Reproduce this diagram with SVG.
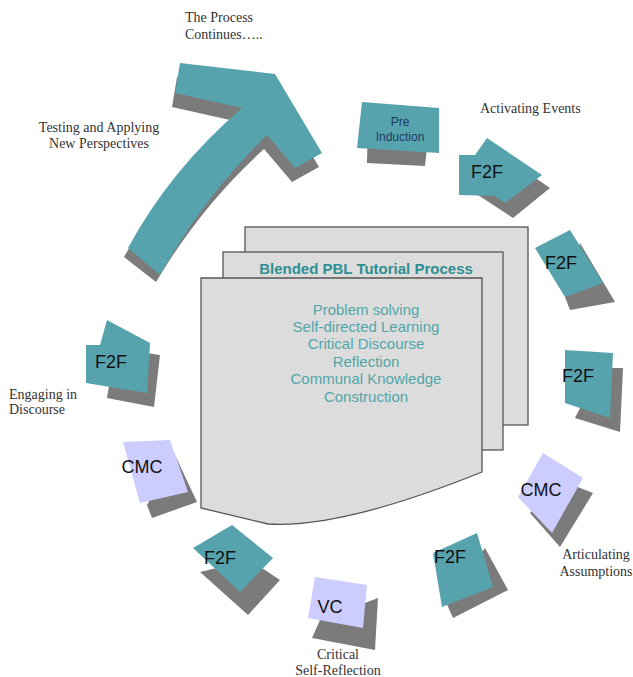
<svg xmlns="http://www.w3.org/2000/svg" width="633" height="677" viewBox="0 0 633 677">
<style>
.lbl{font-family:"Liberation Serif","Times New Roman",serif;font-size:14px;fill:#333}
.teal{fill:#57a3ad}
.lav{fill:#ccccff}
.sh{fill:#7b7b7b}
.tt{font-family:"Liberation Sans",Arial,sans-serif;font-size:18px;fill:#111;text-anchor:middle}
.page{fill:#dcdcdc;stroke:#555;stroke-width:1.3}
.body{font-family:"Liberation Sans",Arial,sans-serif;font-size:15px;fill:#52a6a8;text-anchor:middle}
</style>
<rect width="633" height="677" fill="#fff"/>

<g id="arrow">
<path class="sh" d="M124,257 Q166,180 239,122 L172,107 L177,77 L272,88 L319,167 L292,182 L264,149 Q201,206 156,282 Z"/>
<path class="teal" d="M128,248 Q170,170 242,108 L175,93 L180,63 L275,74 L322,153 L295,168 L267,135 Q205,195 160,275 Z"/>
</g>

<g id="labels">
<text class="lbl" x="185" y="22">The Process</text>
<text class="lbl" x="185" y="39">Continues…..</text>
<text class="lbl" x="99" y="132" text-anchor="middle">Testing and Applying</text>
<text class="lbl" x="99" y="148" text-anchor="middle">New Perspectives</text>
<text class="lbl" x="480" y="113">Activating Events</text>
<text class="lbl" x="9" y="399">Engaging in</text>
<text class="lbl" x="9" y="414">Discourse</text>
<text class="lbl" x="596" y="559" text-anchor="middle">Articulating</text>
<text class="lbl" x="596" y="576" text-anchor="middle">Assumptions</text>
<text class="lbl" x="338" y="659" text-anchor="middle">Critical</text>
<text class="lbl" x="338" y="675" text-anchor="middle">Self-Reflection</text>
</g>

<g id="document">
<rect class="page" x="245" y="227" width="283" height="198"/>
<rect class="page" x="223" y="252" width="280" height="198"/>
<path class="page" d="M201,278 H482 V472 C420,497 330,528 268,524 L201,508 Z"/>
<text x="366" y="274" font-family="Liberation Sans,Arial,sans-serif" font-size="15" font-weight="bold" fill="#2e8f93" text-anchor="middle">Blended PBL Tutorial Process</text>
<text class="body" x="366" y="315">Problem solving</text>
<text class="body" x="366" y="332">Self-directed Learning</text>
<text class="body" x="366" y="349">Critical Discourse</text>
<text class="body" x="366" y="367">Reflection</text>
<text class="body" x="366" y="384">Communal Knowledge</text>
<text class="body" x="366" y="402">Construction</text>
</g>

<g id="pre-induction">
<polygon class="sh" points="368,120 430,120 425,166 367,163"/>
<polygon class="teal" points="362,102 439,108 439,153 357,148"/>
<text x="400" y="126" font-family="Liberation Sans,Arial,sans-serif" font-size="12" fill="#1f3a66" text-anchor="middle">Pre</text>
<text x="400" y="141" font-family="Liberation Sans,Arial,sans-serif" font-size="12" fill="#1f3a66" text-anchor="middle">Induction</text>
</g>

<g id="f2f-1">
<polygon class="sh" points="495,150 550,188 513,218 478,195"/>
<polygon class="teal" points="459,155 475,155 487,138 542,175 505,203 495,196 459,195"/>
<text class="tt" x="487" y="178">F2F</text>
</g>

<g id="f2f-2">
<polygon class="sh" points="580,243 615,302 570,310 565,297"/>
<polygon class="teal" points="535,248 570,230 603,283 565,297"/>
<text class="tt" x="561" y="269">F2F</text>
</g>

<g id="f2f-3">
<polygon class="sh" points="600,368 623,368 620,432 575,418"/>
<polygon class="teal" points="565,350 613,353 610,418 565,403"/>
<text class="tt" x="578" y="382">F2F</text>
</g>

<g id="cmc-right">
<polygon class="sh" points="560,480 593,493 560,547 530,513"/>
<polygon class="lav" points="543,453 583,478 552,533 518,497"/>
<text class="tt" x="541" y="496">CMC</text>
</g>

<g id="f2f-bottom-right">
<polygon class="sh" points="485,548 508,590 453,618 445,600"/>
<polygon class="teal" points="433,553 477,533 493,587 442,607"/>
<text class="tt" x="450" y="563">F2F</text>
</g>

<g id="vc">
<polygon class="sh" points="320,620 378,598 375,650 312,638"/>
<polygon class="lav" points="315,577 367,585 363,628 308,618"/>
<text class="tt" x="330" y="613">VC</text>
</g>

<g id="f2f-bottom-left">
<polygon class="sh" points="200,572 250,560 280,580 248,615"/>
<polygon class="teal" points="193,548 232,525 273,558 240,592"/>
<text class="tt" x="220" y="564">F2F</text>
</g>

<g id="cmc-left">
<polygon class="sh" points="175,455 197,502 152,518 147,505"/>
<polygon class="lav" points="123,442 170,440 188,492 140,503"/>
<text class="tt" x="142" y="473">CMC</text>
</g>

<g id="f2f-left">
<polygon class="sh" points="140,352 160,355 154,407 107,398 110,380"/>
<polygon class="teal" points="86,345 100,345 107,320 150,343 147,393 86,383"/>
<text class="tt" x="111" y="368">F2F</text>
</g>

<g id="connectors"></g>
</svg>
